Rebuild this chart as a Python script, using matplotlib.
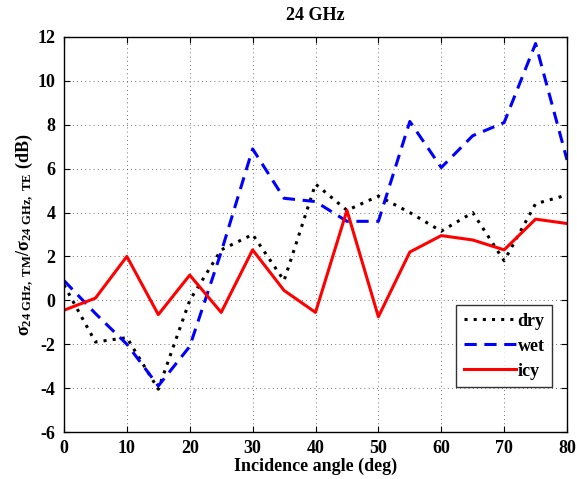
import matplotlib
matplotlib.use("Agg")
import matplotlib.pyplot as plt

plt.rcParams['font.family'] = ['Liberation Serif', 'DejaVu Serif']
plt.rcParams['mathtext.fontset'] = 'custom'
plt.rcParams['mathtext.rm'] = 'Liberation Serif:bold'
plt.rcParams['mathtext.it'] = 'Liberation Serif:bold'
plt.rcParams['mathtext.bf'] = 'Liberation Serif:bold'
plt.rcParams['axes.unicode_minus'] = False

angles = [0, 5, 10, 15, 20, 25, 30, 35, 40, 45, 50, 55, 60, 65, 70, 75, 80]
dry = [0.7, -1.9, -1.7, -4.05, 0.0, 2.3, 3.0, 0.9, 5.3, 4.1, 4.75, 4.0, 3.15, 4.0, 1.8, 4.4, 4.8]
wet = [0.9, -0.6, -2.0, -3.9, -2.1, 2.2, 6.9, 4.65, 4.5, 3.6, 3.6, 8.15, 6.05, 7.5, 8.1, 11.7, 6.4]
icy = [-0.45, 0.1, 2.0, -0.65, 1.15, -0.55, 2.3, 0.45, -0.55, 4.1, -0.75, 2.2, 2.95, 2.75, 2.3, 3.7, 3.5]

xticks = [0, 10, 20, 30, 40, 50, 60, 70, 80]
yticks = [-6, -4, -2, 0, 2, 4, 6, 8, 10, 12]

fig = plt.figure(figsize=(5.77, 4.79), dpi=100)
ax = fig.add_axes([0.1109, 0.0981, 0.8718, 0.8247])

ax.plot(angles, dry, color='black', linestyle=(0, (1, 2)), linewidth=2.2, label='dry')
ax.plot(angles, wet, color='#0000ff', linestyle=(0, (4, 2.5)), linewidth=2.2, label='wet')
ax.plot(angles, icy, color='#ff0000', linestyle='-', linewidth=2.2, label='icy')

ax.set_xlim(0, 80)
ax.set_ylim(-6, 12)
ax.set_xticks(xticks)
ax.set_yticks(yticks)
ax.tick_params(direction='in', top=True, right=True, length=4, width=0.8,
               labelsize=13, pad=6)
for lbl in ax.get_xticklabels() + ax.get_yticklabels():
    lbl.set_fontweight('bold')

ax.grid(True, color='#444444', linestyle=(0, (1, 4)), linewidth=0.6)
for s in ax.spines.values():
    s.set_linewidth(1.0)

ax.set_title('24 GHz', fontsize=13, fontweight='bold', pad=12)
ax.set_xlabel('Incidence angle (deg)', fontsize=13, fontweight='bold', labelpad=0)
ax.set_ylabel(r'$\sigma_{\mathrm{24\ GHz,\ TM}}/\sigma_{\mathrm{24\ GHz,\ TE}}$ (dB)',
              fontsize=13, fontweight='bold', labelpad=1)

leg = ax.legend(loc='lower right', bbox_to_anchor=(0.970, 0.114), fontsize=13,
                frameon=True, fancybox=False, edgecolor='black',
                handlelength=2.9, handletextpad=0.1, borderpad=0.4,
                labelspacing=0.45, borderaxespad=0)
leg.get_frame().set_linewidth(1.0)
for t in leg.get_texts():
    t.set_fontweight('bold')

fig.savefig('out.png', dpi=100)
